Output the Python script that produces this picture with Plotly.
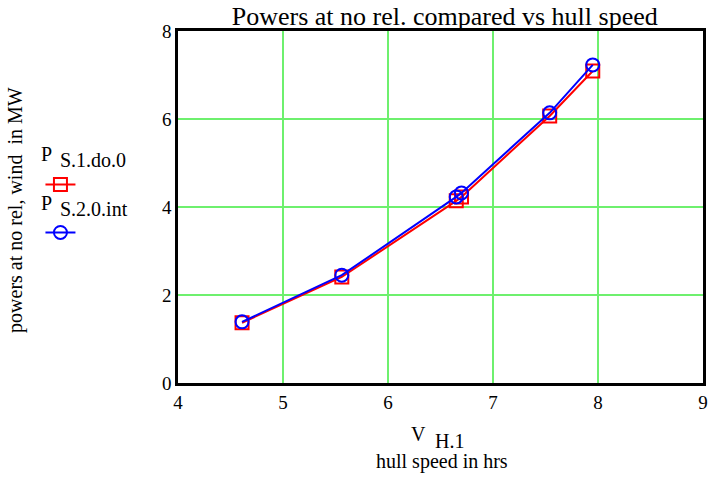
import plotly.graph_objects as go

# hull speed V_H.1 at each operating point
hull_speed = [4.61, 5.56, 6.65, 6.70, 7.54, 7.95]
# shaft power, no relative wind, in MW
p_s1_do0 = [1.37, 2.41, 4.14, 4.23, 6.07, 7.09]
p_s20_int = [1.39, 2.45, 4.23, 4.32, 6.14, 7.23]

x_ticks = [4, 5, 6, 7, 8, 9]
y_ticks = [0, 2, 4, 6, 8]

SERIF = "Liberation Serif"
GRID = "#6ef06e"

fig = go.Figure()
fig.add_trace(go.Scatter(
    x=hull_speed, y=p_s1_do0, mode="lines+markers",
    line=dict(color="red", width=2),
    marker=dict(symbol="square-open", size=13, color="red", line=dict(width=2)),
    name=" ", legend="legend",
))
fig.add_trace(go.Scatter(
    x=hull_speed, y=p_s20_int, mode="lines+markers",
    line=dict(color="blue", width=2),
    marker=dict(symbol="circle-open", size=13, color="blue", line=dict(width=2)),
    name=" ", legend="legend2",
))

axis_common = dict(
    showgrid=True, gridcolor=GRID, gridwidth=1.5,
    showline=True, linecolor="black", linewidth=2.5, mirror=True,
    zeroline=False, ticks="",
    tickfont=dict(family=SERIF, size=19, color="black"),
)

legend_common = dict(
    xanchor="left", yanchor="top", bgcolor="rgba(0,0,0,0)",
    font=dict(family=SERIF, size=20), itemwidth=30,
)


def label(text, x, y, xanchor="center", size=20, angle=0):
    return dict(text=text, x=x, y=y, xref="paper", yref="paper",
                xanchor=xanchor, yanchor="middle", textangle=angle,
                showarrow=False, font=dict(family=SERIF, size=size, color="black"))


fig.update_layout(
    width=712, height=477,
    margin=dict(l=178, r=4, t=31, b=94),
    paper_bgcolor="white", plot_bgcolor="white",
    font=dict(family=SERIF, color="black"),
    title=dict(text="Powers at no rel. compared vs hull speed",
               font=dict(family=SERIF, size=26, color="black"),
               xref="container", yref="container",
               x=0.6246, xanchor="center", y=0.9665, yanchor="middle"),
    xaxis=dict(range=[4, 9], tickvals=x_ticks, **axis_common),
    yaxis=dict(range=[0, 8], tickvals=y_ticks, **axis_common),
    showlegend=True,
    legend=dict(x=-0.262, y=0.619, **legend_common),
    legend2=dict(x=-0.262, y=0.483, **legend_common),
    annotations=[
        label("powers at no rel, wind  in MW", -0.311, 0.491, angle=-90),
        label("P", -0.25, 0.6506),
        label("S.1.do.0", -0.2283, 0.6335, xanchor="left"),
        label("P", -0.25, 0.5114),
        label("S.2.0.int", -0.2283, 0.4943, xanchor="left"),
        label("V", 0.4755, -0.1449, xanchor="right"),
        label("H.1", 0.4849, -0.1648, xanchor="left"),
        label("hull speed in hrs", 0.5028, -0.2216),
    ],
)

fig.write_html("out.html")
